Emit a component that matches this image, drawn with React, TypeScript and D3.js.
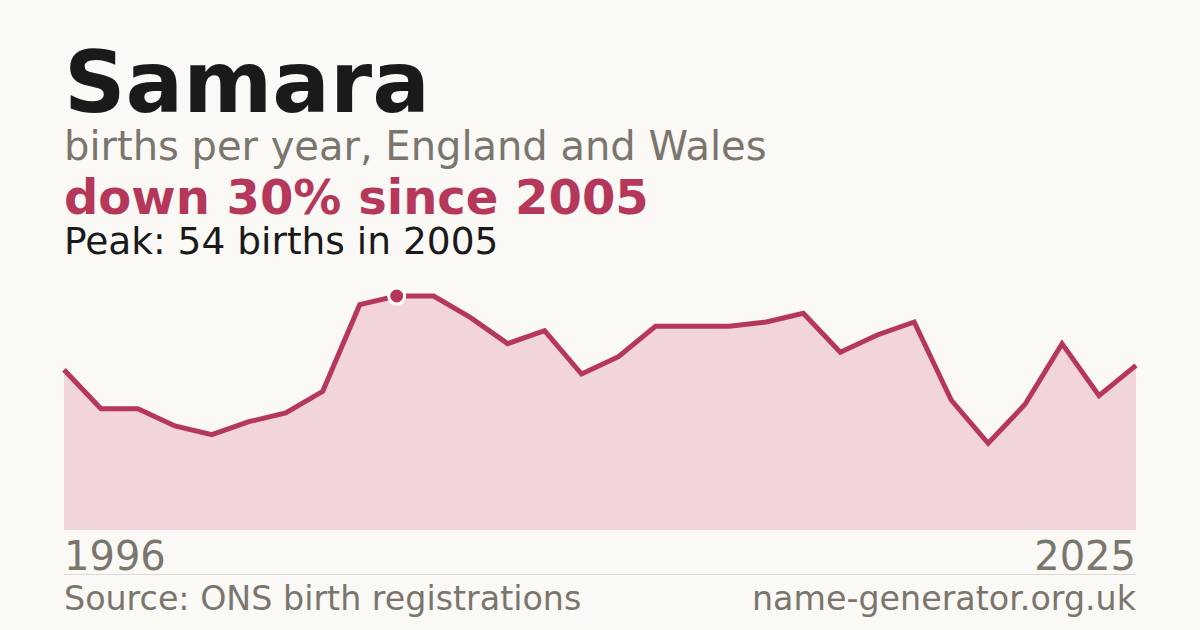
import * as d3 from 'd3';

const years = d3.range(1996, 2026);
const births = [37, 28, 28, 24, 22, 25, 27, 32, 52, 54, 54, 49, 43, 46, 36, 40, 47, 47, 47, 48, 50, 41, 45, 48, 30, 20, 29, 43, 31, 38];

const nameLabel = 'Samara';
const subtitle = 'births per year, England and Wales';
const headline = 'down 30% since 2005';
const peakNote = 'Peak: 54 births in 2005';
const source = 'Source: ONS birth registrations';
const site = 'name-generator.org.uk';

const W = 1200;
const H = 630;
const FONT = '"DejaVu Sans", sans-serif';
const ACCENT = '#b5385a';

export default function App() {
  const x = d3.scaleLinear().domain([1996, 2025]).range([64, 1136]);
  const y = d3.scaleLinear().domain([0, 54]).range([530, 296]);

  const pts = years.map((yr, i) => ({ yr, v: births[i] }));
  const area = d3.area<{ yr: number; v: number }>()
    .x((d) => x(d.yr))
    .y0(y(0))
    .y1((d) => y(d.v));
  const line = d3.line<{ yr: number; v: number }>()
    .x((d) => x(d.yr))
    .y((d) => y(d.v));

  const peakIdx = d3.maxIndex(births);

  return (
    <svg width={W} height={H} style={{ position: 'absolute', left: 0, top: 0, display: 'block' }}>
      <rect width={W} height={H} fill="#faf9f5" />
      <text x={64} y={112} fontFamily={FONT} fontWeight="bold" fontSize={85.5} fill="#1a1a1a">{nameLabel}</text>
      <text x={64} y={160} fontFamily={FONT} fontSize={40} fill="#7a756d">{subtitle}</text>
      <text x={64} y={214} fontFamily={FONT} fontWeight="bold" fontSize={48} fill={ACCENT}>{headline}</text>
      <text x={64} y={254} fontFamily={FONT} fontSize={37.5} fill="#1a1a1a">{peakNote}</text>

      <path d={area(pts) ?? ''} fill="#f1d5da" />
      <path d={line(pts) ?? ''} fill="none" stroke={ACCENT} strokeWidth={5} strokeLinejoin="miter" />
      <circle cx={x(years[peakIdx])} cy={y(births[peakIdx])} r={8} fill={ACCENT} stroke="#ffffff" strokeWidth={3} />

      <text x={64} y={570} fontFamily={FONT} fontSize={40} fill="#7a756d">{years[0]}</text>
      <text x={1136} y={570} fontFamily={FONT} fontSize={40} fill="#7a756d" textAnchor="end">{years[years.length - 1]}</text>
      <line x1={64} x2={1136} y1={574.5} y2={574.5} stroke="#dcdad4" strokeWidth={1} />
      <text x={64} y={610} fontFamily={FONT} fontSize={33.3} fill="#7a756d">{source}</text>
      <text x={1136} y={610} fontFamily={FONT} fontSize={33.3} fill="#7a756d" textAnchor="end">{site}</text>
    </svg>
  );
}
